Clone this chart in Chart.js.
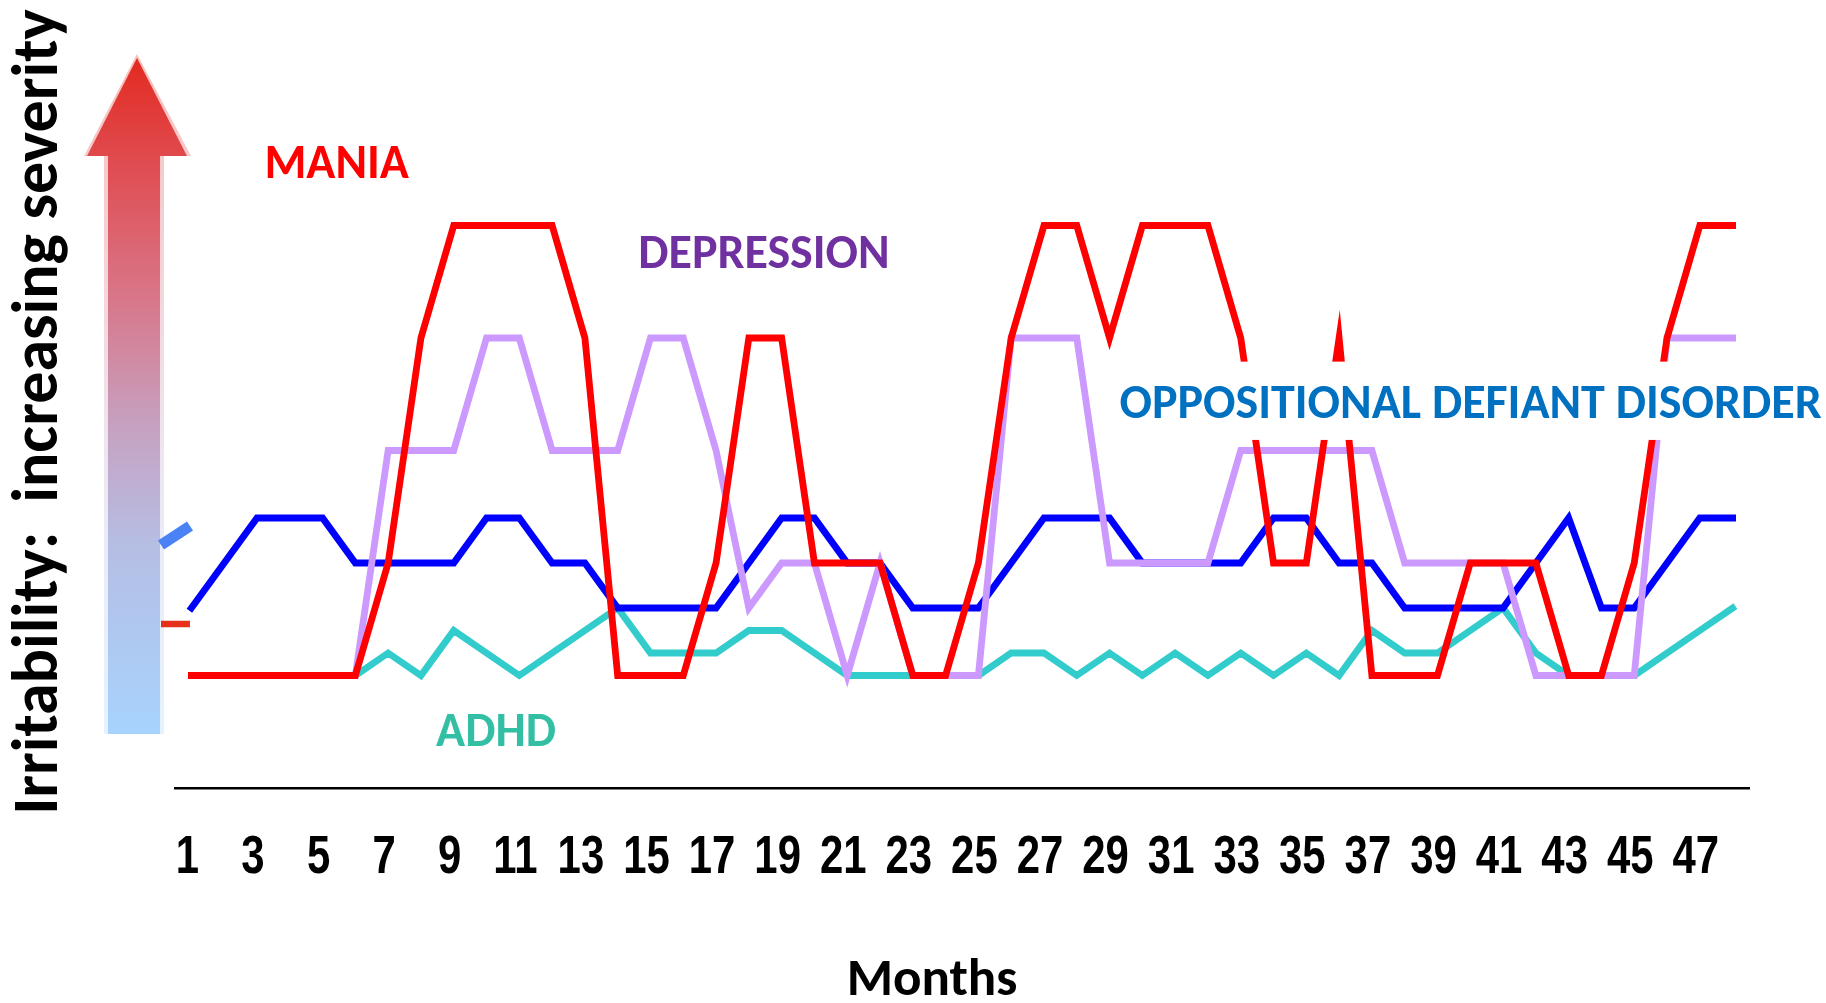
<!DOCTYPE html>
<html>
<head>
<meta charset="utf-8">
<title>Irritability across diagnoses by month</title>
<script src="https://cdn.jsdelivr.net/npm/chart.js@4.4.1/dist/chart.umd.min.js"></script>
<style>
  html, body { margin: 0; padding: 0; background: #ffffff; }
  #wrap { width: 1826px; height: 1003px; position: relative; }
</style>
</head>
<body>
<div id="wrap"><canvas id="chart" width="1826" height="1003"></canvas></div>
<script>
// Months of follow-up (category axis)
const months = ['1','2','3','4','5','6','7','8','9','10','11','12','13','14','15','16',
  '17','18','19','20','21','22','23','24','25','26','27','28','29','30','31','32',
  '33','34','35','36','37','38','39','40','41','42','43','44','45','46','47','48'];

// Irritability severity per month for each diagnosis
const mania = [5,5,5,5,5,5,10,20,25,25,25,25,20,5,5,5,10,20,20,10,10,10,5,5,
  10,20,25,25,20,25,25,25,20,10,10,20,5,5,5,10,10,10,5,5,10,20,25,25];
const depression = [5,5,5,5,5,5,15,15,15,20,20,15,15,15,20,20,15,8,10,10,5,10,5,5,
  5,20,20,20,10,10,10,10,15,15,15,15,15,10,10,10,10,5,5,5,5,20,20,20];
const odd = [8,10,12,12,12,10,10,10,10,12,12,10,10,8,8,8,8,10,12,12,10,10,8,8,
  8,10,12,12,12,10,10,10,10,12,12,10,10,8,8,8,8,10,12,8,8,10,12,12];
const adhd = [5,5,5,5,5,5,6,5,7,6,5,6,7,8,6,6,6,7,7,6,5,5,5,5,
  5,6,6,5,6,5,6,5,6,5,6,5,7,6,6,7,8,6,5,5,5,6,7,8];

// Series names, line colours and label colours
const seriesNames = ['MANIA', 'DEPRESSION', 'OPPOSITIONAL DEFIANT DISORDER', 'ADHD'];
const lineColors = ['#FF0000', '#CC99FF', '#0000FF', '#33CCCC'];
const labelColors = ['#FF0000', '#7030A0', '#0070C0', '#33BFA3'];

const yTitle = 'Irritability:  increasing severity';
const xTitle = 'Months';

const TEXT_FONT = 'Carlito, Lato, "Open Sans", sans-serif';
const TICK_FONT = '"Liberation Sans", Arial, sans-serif';

// In-plot series labels, placed in data units (category index, severity)
const seriesLabels = [
  { name: 0, x: 4.43, y: 27.84, size: 48 },
  { name: 1, x: 17.46, y: 23.84, size: 48 },
  { name: 2, x: 39.01, y: 17.17, size: 48, box: { left: 28.0, top: 18.95, bottom: 15.47 } },
  { name: 3, x: 9.29, y: 2.58, size: 48 }
];

function fillCentered(ctx, text, cx, cy) {
  const m = ctx.measureText(text);
  const base = cy + (m.actualBoundingBoxAscent - m.actualBoundingBoxDescent) / 2;
  ctx.fillText(text, cx, base);
}

// Severity arrow and the y-axis title on the left of the plot
const sidePlugin = {
  id: 'side',
  beforeDatasetsDraw(chart) {
    const ctx = chart.ctx;
    ctx.save();
    const tipY = 56, headY = 156, baseY = 734;
    const cx = 134;
    const grad = ctx.createLinearGradient(0, tipY, 0, baseY);
    grad.addColorStop(0.00, '#E3291F');
    grad.addColorStop(0.15, '#E04A4E');
    grad.addColorStop(0.35, '#D97587');
    grad.addColorStop(0.55, '#C6A2C2');
    grad.addColorStop(0.72, '#B6BEE4');
    grad.addColorStop(1.00, '#A7D3FD');
    // soft halo
    ctx.globalAlpha = 0.3;
    ctx.fillStyle = grad;
    ctx.fillRect(cx - 30, headY, 60, baseY - headY);
    ctx.beginPath();
    ctx.moveTo(cx + 3, tipY - 2);
    ctx.lineTo(cx + 57, headY);
    ctx.lineTo(cx - 50, headY);
    ctx.closePath();
    ctx.fill();
    ctx.globalAlpha = 1;
    ctx.fillRect(cx - 26, headY, 52, baseY - headY);
    ctx.beginPath();
    ctx.moveTo(cx + 3, tipY + 2);
    ctx.lineTo(cx + 53, headY);
    ctx.lineTo(cx - 47, headY);
    ctx.closePath();
    ctx.fill();

    // small stray strokes beside the arrow
    ctx.lineCap = 'butt';
    ctx.strokeStyle = '#4A82F6';
    ctx.lineWidth = 11;
    ctx.beginPath();
    ctx.moveTo(161, 545);
    ctx.lineTo(190, 526);
    ctx.stroke();
    ctx.strokeStyle = '#E5311C';
    ctx.lineWidth = 6.5;
    ctx.beginPath();
    ctx.moveTo(161, 624);
    ctx.lineTo(190, 624);
    ctx.stroke();

    // y-axis title
    ctx.fillStyle = '#000000';
    ctx.font = 'bold 64px ' + TEXT_FONT;
    ctx.textAlign = 'center';
    ctx.textBaseline = 'alphabetic';
    ctx.translate(57, 412);
    ctx.rotate(-Math.PI / 2);
    ctx.fillText(yTitle, 0, 0);
    ctx.restore();
  }
};

// Series name labels drawn over the lines
const labelPlugin = {
  id: 'seriesLabels',
  afterDatasetsDraw(chart) {
    const ctx = chart.ctx;
    const xs = chart.scales.x, ys = chart.scales.y;
    ctx.save();
    ctx.textAlign = 'center';
    for (const l of seriesLabels) {
      const cx = xs.getPixelForValue(l.x);
      const cy = ys.getPixelForValue(l.y);
      if (l.box) {
        const bl = xs.getPixelForValue(l.box.left);
        const bt = ys.getPixelForValue(l.box.top);
        const bb = ys.getPixelForValue(l.box.bottom);
        ctx.fillStyle = '#FFFFFF';
        ctx.fillRect(bl, bt, chart.width - bl, bb - bt);
      }
      ctx.font = 'bold ' + l.size + 'px ' + TEXT_FONT;
      ctx.fillStyle = labelColors[l.name];
      fillCentered(ctx, seriesNames[l.name], cx, cy);
    }
    ctx.restore();
  }
};

// Narrow bold month labels (every other month) and the x-axis title
const xLabelPlugin = {
  id: 'xLabels',
  afterDraw(chart) {
    const ctx = chart.ctx;
    const xs = chart.scales.x;
    const a = chart.chartArea;
    ctx.save();
    ctx.fillStyle = '#000000';
    ctx.textAlign = 'center';
    ctx.textBaseline = 'alphabetic';
    ctx.font = 'bold 53px ' + TICK_FONT;
    const squeeze = 0.79;
    months.forEach((m, i) => {
      if (i % 2 !== 0) return;
      const px = xs.getPixelForValue(i) - 4;
      ctx.save();
      ctx.translate(px, a.bottom + 85);
      ctx.scale(squeeze, 1);
      ctx.fillText(m, 0, 0);
      ctx.restore();
    });
    ctx.font = 'bold 53px ' + TEXT_FONT;
    const cx = xs.getPixelForValue(23.5) - 30;
    fillCentered(ctx, xTitle, cx, a.bottom + 188);
    ctx.restore();
  }
};

const seriesData = [mania, depression, odd, adhd];
const datasets = seriesData.map((d, i) => ({
  label: seriesNames[i],
  data: d,
  borderColor: lineColors[i],
  backgroundColor: lineColors[i],
  borderWidth: 6.8,
  borderJoinStyle: 'miter',
  borderCapStyle: 'square',
  pointRadius: 0,
  pointHoverRadius: 0,
  tension: 0,
  fill: false
}));

new Chart(document.getElementById('chart'), {
  type: 'line',
  data: { labels: months, datasets },
  plugins: [sidePlugin, labelPlugin, xLabelPlugin],
  options: {
    responsive: false,
    animation: false,
    devicePixelRatio: 1,
    layout: { padding: { left: 175, right: 77, top: 113, bottom: 0 } },
    plugins: { legend: { display: false }, tooltip: { enabled: false } },
    scales: {
      x: {
        type: 'category',
        offset: true,
        grid: { display: false, drawTicks: false },
        border: { display: true, color: '#000000', width: 2.5 },
        ticks: { display: false, autoSkip: false },
        title: { display: false, text: xTitle },
        afterFit: (s) => { s.height = 215; }
      },
      y: { display: false, min: 0, max: 30 }
    }
  }
});
</script>
</body>
</html>
